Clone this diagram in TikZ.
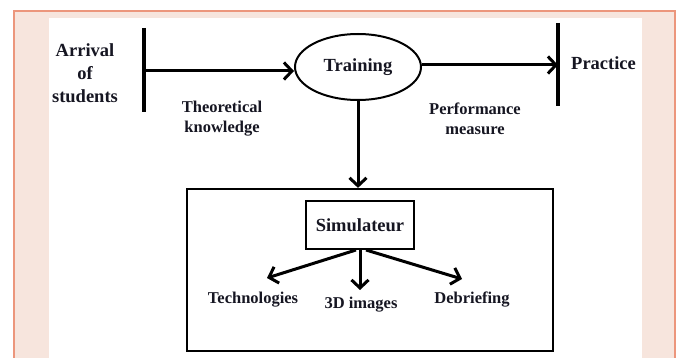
\documentclass[tikz,border=0pt]{standalone}
\usepackage{fontspec}
\setmainfont{Liberation Serif}
\usetikzlibrary{arrows.meta,shapes.geometric}
\definecolor{pinkfill}{RGB}{247,229,221}
\definecolor{pinkline}{RGB}{236,150,124}
\definecolor{inkc}{RGB}{22,22,34}
\tikzset{
  big/.style={font=\bfseries\fontsize{18.5}{23}\selectfont, text=inkc, align=center, inner sep=0pt},
  small/.style={font=\bfseries\fontsize{16.5}{20}\selectfont, text=inkc, align=center, inner sep=0pt},
  bar/.style={line width=3.4pt, draw=black},
  arr/.style={line width=3pt, draw=black, -{Straight Barb[length=8pt,width=17pt,line width=3pt]}},
  boxline/.style={draw=black, line width=2.2pt}
}
\begin{document}
\begin{tikzpicture}[x=1pt,y=-1pt]
\useasboundingbox (0,0) rectangle (678,358);
% background frame
\fill[white] (0,0) rectangle (678,358);
\fill[pinkfill] (14,11) rectangle (675,358);
\draw[pinkline, line width=1.5pt] (14,358) -- (14,11) -- (675,11) -- (675,358);
\fill[white] (49,18) rectangle (642,358);
% left bar
\coordinate (lbtop) at (144,28);
\coordinate (lbbot) at (144,112);
\coordinate (lbmid) at (144,71);
\draw[bar] (lbtop) -- (lbbot);
% right bar
\coordinate (rbtop) at (558,23);
\coordinate (rbbot) at (558,106);
\coordinate (rbmid) at (558,65);
\draw[bar] (rbtop) -- (rbbot);
% nodes
\node[big] (arrival) at (85,73) {Arrival\\of\\students};
\node[big, ellipse, draw=black, line width=2pt, minimum width=126pt, minimum height=66pt] (training) at (358,67) {Training};
\node[big, anchor=west] (practice) at (571,63) {Practice};
\node[small] (theo) at (222,119) {Theoretical\\knowledge};
\node[small] (perf) at (475,119) {Performance\\measure};
\node[boxline, minimum width=366pt, minimum height=162pt] (simbox) at (370,270) {};
\node[big, boxline, minimum width=108pt, minimum height=48pt] (sim) at (360,225) {Simulateur};
\node[small] (tech) at (253,300) {Technologies};
\node[small] (img) at (361,305) {3D images};
\node[small] (debr) at (472,300) {Debriefing};
\coordinate (ttech) at (267,278);
\coordinate (timg) at (360,290);
\coordinate (tdebr) at (462,279);
\coordinate (sl) at (356,250);
\coordinate (sr) at (366,250);
% connectors
\draw[arr] (lbmid) -- (lbmid -| training.west);
\draw[arr] (training.east |- rbmid) -- (rbmid);
\draw[arr] (training.south) -- (training.south |- simbox.north);
\draw[arr] (sl) -- (ttech);
\draw[arr] (sim.south) -- (timg);
\draw[arr] (sr) -- (tdebr);
\end{tikzpicture}
\end{document}
